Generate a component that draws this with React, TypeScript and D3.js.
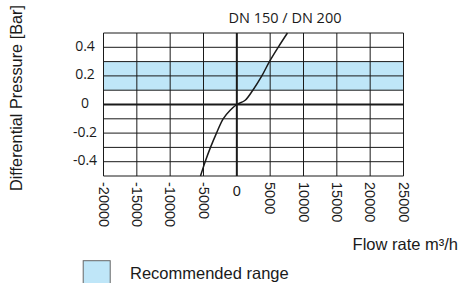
import React from 'react';
import * as d3 from 'd3';

// flow rate (m³/h) vs differential pressure (bar)
const flow = [-5450, -4750, -3950, -3050, -2050, -1000, 0, 1250, 2400, 3750, 4890, 6200, 7590];
const pressure = [-0.5, -0.4, -0.3, -0.2, -0.1, -0.04, 0, 0.03, 0.1, 0.2, 0.3, 0.4, 0.5];

const xTicks = [-20000, -15000, -10000, -5000, 0, 5000, 10000, 15000, 20000, 25000];
const yGrid = [-0.5, -0.4, -0.3, -0.2, -0.1, 0, 0.1, 0.2, 0.3, 0.4, 0.5];
const yLabels = ['0.4', '0.2', '0', '-0.2', '-0.4'];
const range = [0.1, 0.3];

const title = 'DN 150 / DN 200';
const yTitle = 'Differential Pressure [Bar]';
const xTitle = 'Flow rate m³/h';
const legendText = 'Recommended range';

const W = 460, H = 283;
const left = 103.5, right = 403.5, top = 33, bottom = 176;

const App = () => {
  const x = d3.scaleLinear().domain([-20000, 25000]).range([left, right]);
  const y = d3.scaleLinear().domain([-0.5, 0.5]).range([bottom, top]);

  const line = d3.line<number>()
    .x((d, i) => x(flow[i]))
    .y(d => y(d))
    .curve(d3.curveCatmullRom.alpha(0.5));

  const tickFont = '"Liberation Sans", Arial, sans-serif';
  const openFont = '"Open Sans", sans-serif';

  return (
    <svg width={W} height={H} style={{position: 'absolute', left: 0, top: 0, background: '#fff'}}>
      <rect x={left} y={y(range[1])} width={right - left} height={y(range[0]) - y(range[1])} fill="#bfe6f8" />

      {yGrid.map(v => (
        <line key={'h' + v} x1={left} x2={right} y1={y(v)} y2={y(v)}
          stroke="#1a1a1a" strokeWidth={v === 0 ? 2 : 1} />
      ))}
      {xTicks.map(v => (
        <line key={'v' + v} x1={x(v)} x2={x(v)} y1={top} y2={bottom}
          stroke="#1a1a1a" strokeWidth={v === 0 ? 2 : 1} />
      ))}

      <path d={line(pressure) || ''} fill="none" stroke="#1a1a1a" strokeWidth={1.5} />

      <text x={285} y={22.5} textAnchor="middle" fontFamily={openFont} fontSize={14.5} fill="#1a1a1a">{title}</text>

      {yLabels.map(v => (
        <text key={'yl' + v} x={85} y={y(+v) - 2} textAnchor="middle" dominantBaseline="central"
          fontFamily={openFont} fontSize={14} fill="#1a1a1a">{v}</text>
      ))}

      {xTicks.map(v => v === 0 ? (
        <text key={'xl' + v} x={x(v)} y={195.5} textAnchor="middle"
          fontFamily={tickFont} fontSize={14.5} fill="#1a1a1a">0</text>
      ) : (
        <text key={'xl' + v} transform={`translate(${x(v)},182) rotate(90)`} textAnchor="start"
          dominantBaseline="central" fontFamily={tickFont} fontSize={14.5} fill="#1a1a1a">{v}</text>
      ))}

      <text transform={`translate(22,98) rotate(-90)`} textAnchor="middle"
        fontFamily={tickFont} fontSize={16.3} fill="#1a1a1a">{yTitle}</text>

      <text x={458} y={250} textAnchor="end" fontFamily={tickFont} fontSize={16.5} fill="#1a1a1a">{xTitle}</text>

      <rect x={83.2} y={260.7} width={27} height={27} fill="#bfe6f8" stroke="#666" strokeWidth={1} />
      <text x={130} y={279} fontFamily={tickFont} fontSize={16.5} fill="#1a1a1a">{legendText}</text>
    </svg>
  );
};

export default App;
